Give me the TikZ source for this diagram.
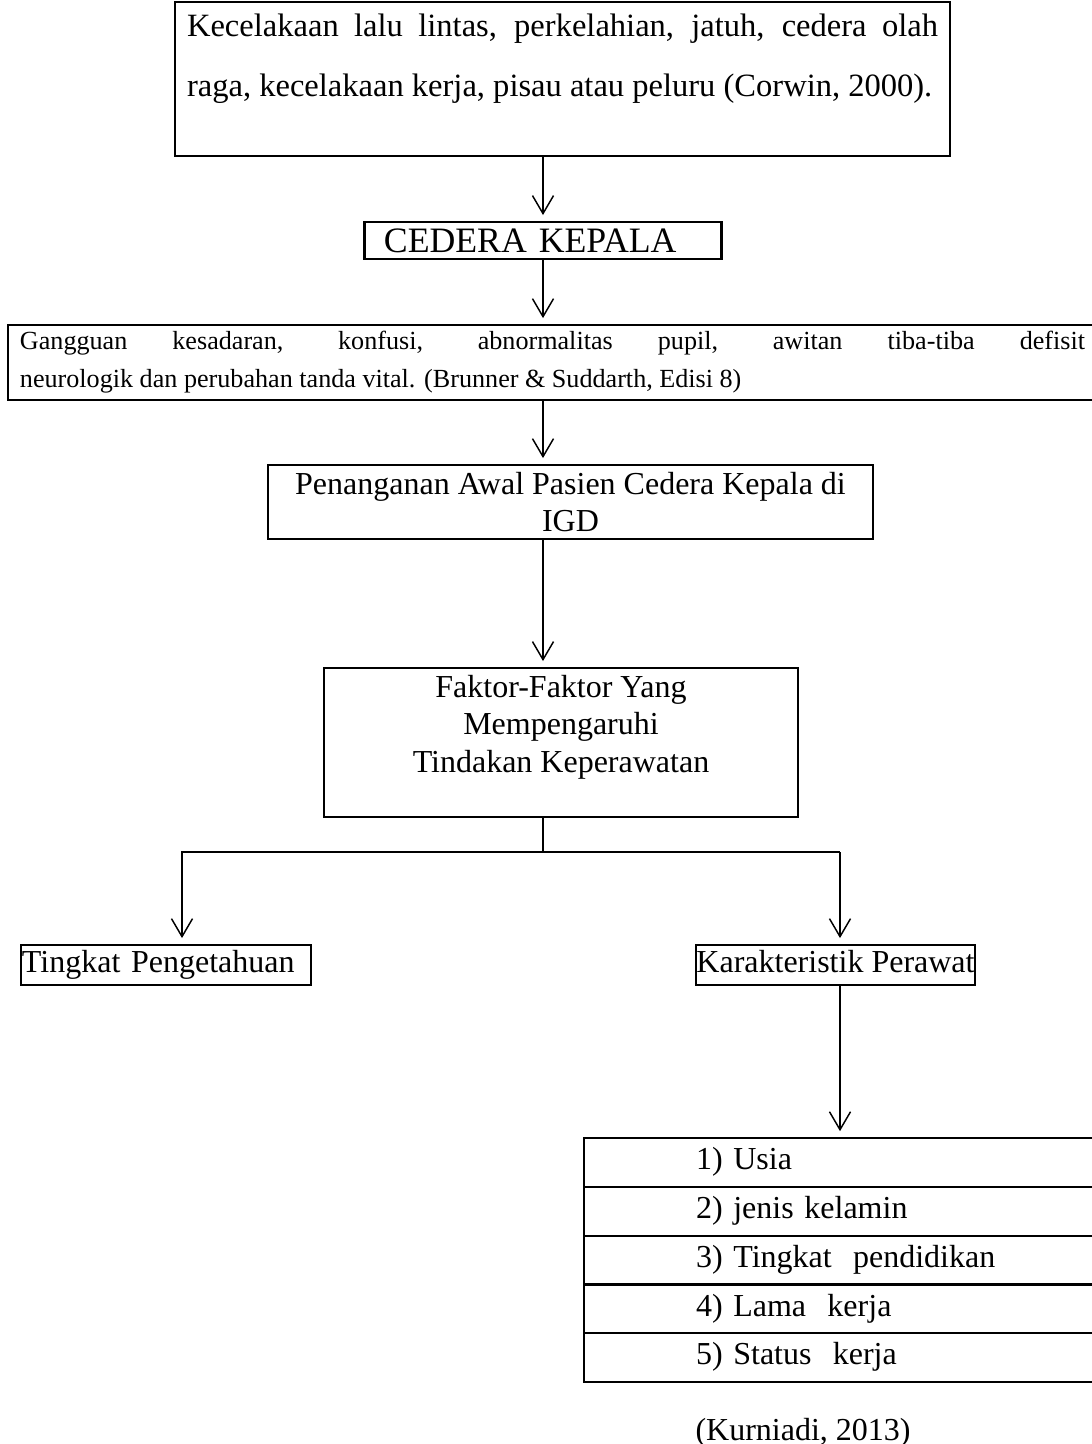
\documentclass[tikz,border=0pt]{standalone}
\usepackage{fontspec}
\setmainfont{Liberation Serif}
\usepackage{tikz}
\usetikzlibrary{arrows.meta,positioning}
\tolerance=10000
\hbadness=10000
\tikzset{
	kotak/.style={draw, line width=0.8pt, inner sep=0pt, outer sep=0pt},
	panah/.style={line width=0.55pt, -{Straight Barb[length=6.75pt,width=7.9pt]}, shorten >=2.6pt},
	garis/.style={line width=0.55pt},
	baris/.style={kotak, anchor=west, minimum height=18.3pt, inner xsep=42pt, text width=130pt, align=left, text height=8.4pt, text depth=3pt},
}

\begin{document}
\begin{tikzpicture}[x=0.375pt, y=-0.375pt, font=\fontsize{12}{13.8}\selectfont]
	%%%%% START %%%%%
	\useasboundingbox (0,0) rectangle (1092,1444);
	
	\node[kotak, minimum width=290.6pt, minimum height=57.75pt, text width=281.6pt, inner xsep=4.5pt, align=justify, font=\fontsize{12.2}{22.5}\selectfont] (kecelakaan) at (562.5,79) {Kecelakaan lalu lintas, perkelahian, jatuh, cedera olah\linebreak raga, kecelakaan kerja, pisau atau peluru (Corwin, 2000).\rule[-18pt]{0pt}{0pt}};
	
	\node[kotak, minimum width=133.9pt, minimum height=13.9pt, text width=119.3pt, inner xsep=7.3pt, align=left, font=\fontsize{13.4}{15}\selectfont] (cedera) at (543,240.5) {CEDERA KEPALA};
	
	\node[kotak, minimum width=408.4pt, minimum height=28.1pt, text width=399.4pt, inner xsep=4.5pt, align=justify, font=\fontsize{9.8}{14.25}\selectfont] (gangguan) at (552.5,362.5) {Gangguan kesadaran, konfusi, abnormalitas pupil, awitan tiba-tiba defisit\linebreak neurologik dan perubahan tanda vital. (Brunner \& Suddarth, Edisi 8)};
	
	\node[kotak, minimum width=226.9pt, minimum height=27.75pt, align=center] (penanganan) at (570.5,502) {Penanganan Awal Pasien Cedera Kepala di\\IGD};
	
	\node[kotak, minimum width=177.75pt, minimum height=55.9pt, align=center, font=\fontsize{12}{14}\selectfont] (faktor) at (561,742.5) {Faktor-Faktor Yang\\Mempengaruhi\\Tindakan Keperawatan\rule[-14pt]{0pt}{0pt}};
	
	%%%%% CABANG %%%%%
	\node[kotak, minimum width=108.75pt, minimum height=15pt, text width=108pt, inner xsep=0.375pt, align=left, text height=8.4pt, text depth=3pt] (tingkat) at (166,965) {Tingkat Pengetahuan};
	\node[kotak, minimum width=104.6pt, minimum height=15pt, text height=8.4pt, text depth=3pt] (karakteristik) at (835.5,965) {Karakteristik Perawat};
	
	\node[baris] (usia) at (584,1162.5) {1) Usia};
	\node[baris, below=0pt of usia] (kelamin) {2) jenis kelamin};
	\node[baris, below=0pt of kelamin] (pendidikan) {3) Tingkat~ pendidikan};
	\node[baris, below=0pt of pendidikan] (lama) {4) Lama~ kerja};
	\node[baris, below=0pt of lama] (status) {5) Status~ kerja};
	
	\node[anchor=base west, inner sep=0pt] (sumber) at (695,1440) {(Kurniadi, 2013)};
	
	%%%%% PANAH %%%%%
	\coordinate (kiri) at (182,852);
	\coordinate (kanan) at (840,852);
	
	\draw[panah] (kecelakaan.south -| cedera.north) -- (cedera.north);
	\draw[panah] (cedera.south) -- (cedera.south |- gangguan.north);
	\draw[panah] (cedera.south |- gangguan.south) -- (cedera.south |- penanganan.north);
	\draw[panah] (cedera.south |- penanganan.south) -- (cedera.south |- faktor.north);
	\draw[garis] (cedera.south |- faktor.south) -- (cedera.south |- kanan);
	\draw[panah] (kanan) -- (kiri) -- (kiri |- tingkat.north);
	\draw[panah] (kanan) -- (kanan |- karakteristik.north);
	\draw[panah] (kanan |- karakteristik.south) -- (kanan |- usia.north);
	
	%%%%% END %%%%%
\end{tikzpicture}
\end{document}
